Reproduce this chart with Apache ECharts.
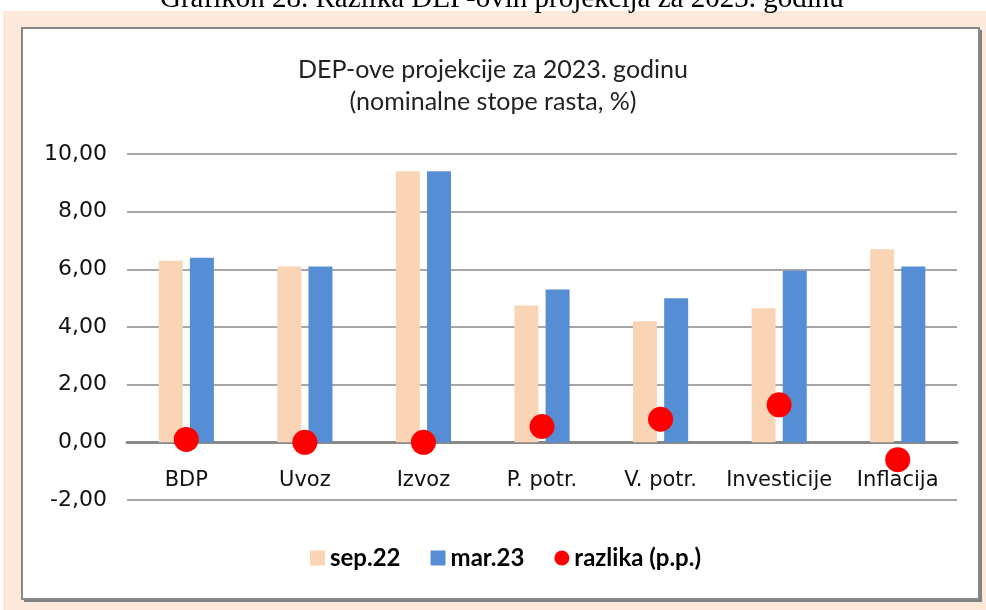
<!DOCTYPE html>
<html>
<head>
<meta charset="UTF-8">
<title>DEP-ove projekcije</title>
<script src="https://cdn.jsdelivr.net/npm/echarts@6/dist/echarts.min.js"></script>
<style>
    html, body { margin: 0; padding: 0; background: #fff; }
    #main { width: 986px; height: 610px; }
</style>
</head>
<body>
<div id="main"></div>
<script>
    // podaci
    var kategorije = ['BDP', 'Uvoz', 'Izvoz', 'P. potr.', 'V. potr.', 'Investicije', 'Inflacija'];
    var sep22 = [6.3, 6.1, 9.4, 4.75, 4.2, 4.65, 6.7];
    var mar23 = [6.4, 6.1, 9.4, 5.3, 5.0, 5.95, 6.1];
    var razlika = [0.1, 0.0, 0.0, 0.55, 0.8, 1.3, -0.6];

    var font = 'Lato, "Open Sans", sans-serif';
    var wide = '"DejaVu Sans", sans-serif';
    var myChart = echarts.init(document.getElementById('main'));

    var option = {
        animation: false,
        backgroundColor: '#fff',
        graphic: [
            { type: 'rect', z: -10, shape: { x: 3, y: 11, width: 983, height: 599 }, style: { fill: '#fce9db' } },
            { type: 'rect', z: -9, shape: { x: 24, y: 30, width: 958, height: 572 }, style: { fill: '#808080' } },
            { type: 'rect', z: -8, shape: { x: 22, y: 28, width: 957, height: 571 }, style: { fill: '#fff', stroke: '#888', lineWidth: 2 } },
            { type: 'text', left: 160, top: -15, style: { text: 'Grafikon 28. Razlika DEP-ovih projekcija za 2023. godinu', font: '29px "Liberation Serif", serif', fill: '#000' } }
        ],
        title: {
            text: 'DEP-ove projekcije za 2023. godinu\n(nominalne stope rasta, %)',
            left: 'center',
            top: 49,
            textStyle: { fontFamily: font, fontSize: 25, fontWeight: 'normal', color: '#222', lineHeight: 32 }
        },
        legend: {
            top: 541,
            left: 305,
            itemWidth: 15,
            itemHeight: 15,
            itemGap: 30,
            textStyle: { fontFamily: font, fontSize: 24, fontWeight: 'bold', color: '#000' },
            data: [
                { name: 'sep.22', icon: 'rect' },
                { name: 'mar.23', icon: 'rect' },
                { name: 'razlika (p.p.)', icon: 'circle' }
            ]
        },
        grid: { left: 127, right: 29, top: 154, bottom: 110 },
        xAxis: {
            type: 'category',
            data: kategorije,
            axisLine: { onZero: true, lineStyle: { color: '#888', width: 3 } },
            axisTick: { show: false },
            axisLabel: { interval: 0, fontFamily: wide, fontSize: 21, color: '#111', margin: -30 }
        },
        yAxis: {
            type: 'value',
            min: -2,
            max: 10,
            interval: 2,
            axisLine: { show: false },
            axisTick: { show: false },
            splitLine: { lineStyle: { color: '#888', width: 1.5 } },
            axisLabel: {
                fontFamily: wide, fontSize: 22, color: '#111', margin: 20,
                formatter: function (v) { return v.toFixed(2).replace('.', ','); }
            }
        },
        series: [
            { name: 'sep.22', type: 'bar', data: sep22, barWidth: 24, barGap: '30%', itemStyle: { color: '#fad5b5' } },
            { name: 'mar.23', type: 'bar', data: mar23, barWidth: 24, itemStyle: { color: '#558ed5' } },
            { name: 'razlika (p.p.)', type: 'scatter', data: razlika, symbolSize: 25, itemStyle: { color: '#ff0000', opacity: 1 }, z: 5 }
        ]
    };
    myChart.setOption(option);
</script>
</body>
</html>
